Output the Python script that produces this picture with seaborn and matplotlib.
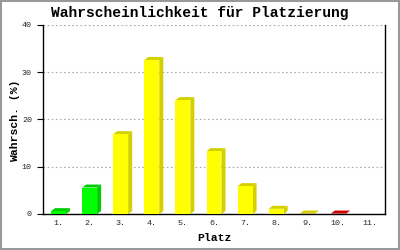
import matplotlib
matplotlib.use("Agg")
import matplotlib.pyplot as plt
import seaborn as sns
import pandas as pd
from matplotlib.patches import Polygon, Rectangle

places = ["1.", "2.", "3.", "4.", "5.", "6.", "7.", "8.", "9.", "10.", "11."]
values = [0.6, 5.6, 16.9, 32.6, 24.1, 13.3, 5.9, 1.1, 0.1, 0.1, 0.0]
front_colors = ["#00FF00", "#00FF00", "#FFFF00", "#FFFF00", "#FFFF00", "#FFFF00",
                "#FFFF00", "#FFFF00", "#FFFF00", "#D00000", "#D00000"]
side_colors = ["#00CC00", "#00CC00", "#D4D000", "#D4D000", "#D4D000", "#D4D000",
               "#D4D000", "#D4D000", "#D4D000", "#D00000", "#D00000"]
y_ticks = [0, 10, 20, 30, 40]

sns.set_theme(style="white")
plt.rcParams['font.family'] = ['Liberation Mono', 'DejaVu Sans Mono']

fig = plt.figure(figsize=(4, 2.5), dpi=100)
fig.patch.set_facecolor("white")
ax = fig.add_axes([43/400, 1-214/250, 342/400, 189/250])

df = pd.DataFrame({"Platz": places, "Wert": values})
sns.barplot(data=df, x="Platz", y="Wert", hue="Platz", palette=front_colors,
            legend=False, width=0.48, saturation=1, ax=ax, zorder=3, linewidth=0)

ax.set_xlim(-0.5, len(places) - 0.5)
ax.set_ylim(0, 40)
ax.set_yticks(y_ticks)

# 3D side/top faces
px_per_x = 342 / len(places)
px_per_y = 189 / 40
dx = 4 / px_per_x
dy = 3 / px_per_y
for patch, val, sc in zip(ax.patches, values, side_colors):
    if val <= 0:
        continue
    x = patch.get_x()
    w = patch.get_width()
    h = patch.get_height()
    side = Polygon([(x + w, 0), (x + w + dx, dy), (x + w + dx, h + dy), (x + w, h)],
                   closed=True, facecolor=sc, edgecolor="none", zorder=2)
    top = Polygon([(x, h), (x + dx, h + dy), (x + w + dx, h + dy), (x + w, h)],
                  closed=True, facecolor=sc, edgecolor="none", zorder=2)
    ax.add_patch(side)
    ax.add_patch(top)

ax.yaxis.grid(True, color="#aaaaaa", linestyle=(0, (1.5, 2.2)), linewidth=0.8, zorder=0)
ax.xaxis.grid(False)
ax.set_axisbelow(True)

for s in ["left", "bottom", "right"]:
    ax.spines[s].set_visible(True)
    ax.spines[s].set_color("black")
    ax.spines[s].set_linewidth(1.0)
ax.spines["top"].set_visible(False)

ax.tick_params(axis="y", left=True, length=4, width=0.8, color="black",
               labelsize=6, pad=4)
ax.tick_params(axis="x", bottom=False, length=0, labelsize=6, pad=4.5)
ax.set_xlabel("")
ax.set_ylabel("")

fig.text(0.5, 1 - 13/250, "Wahrscheinlichkeit für Platzierung", ha="center", va="center",
         fontsize=10.5, fontweight="bold", color="black")
fig.text(214/400, 1 - 238/250, "Platz", ha="center", va="center",
         fontsize=8.2, fontweight="bold", color="black")
fig.text(15/400, 1 - 121/250, "Wahrsch. (%)", ha="center", va="center", rotation=90,
         fontsize=8.2, fontweight="bold", color="black")

fig.patches.append(Rectangle((0, 0), 1, 1, transform=fig.transFigure, fill=False,
                             edgecolor="#999999", linewidth=2.9))

fig.savefig("out.png", dpi=100)
